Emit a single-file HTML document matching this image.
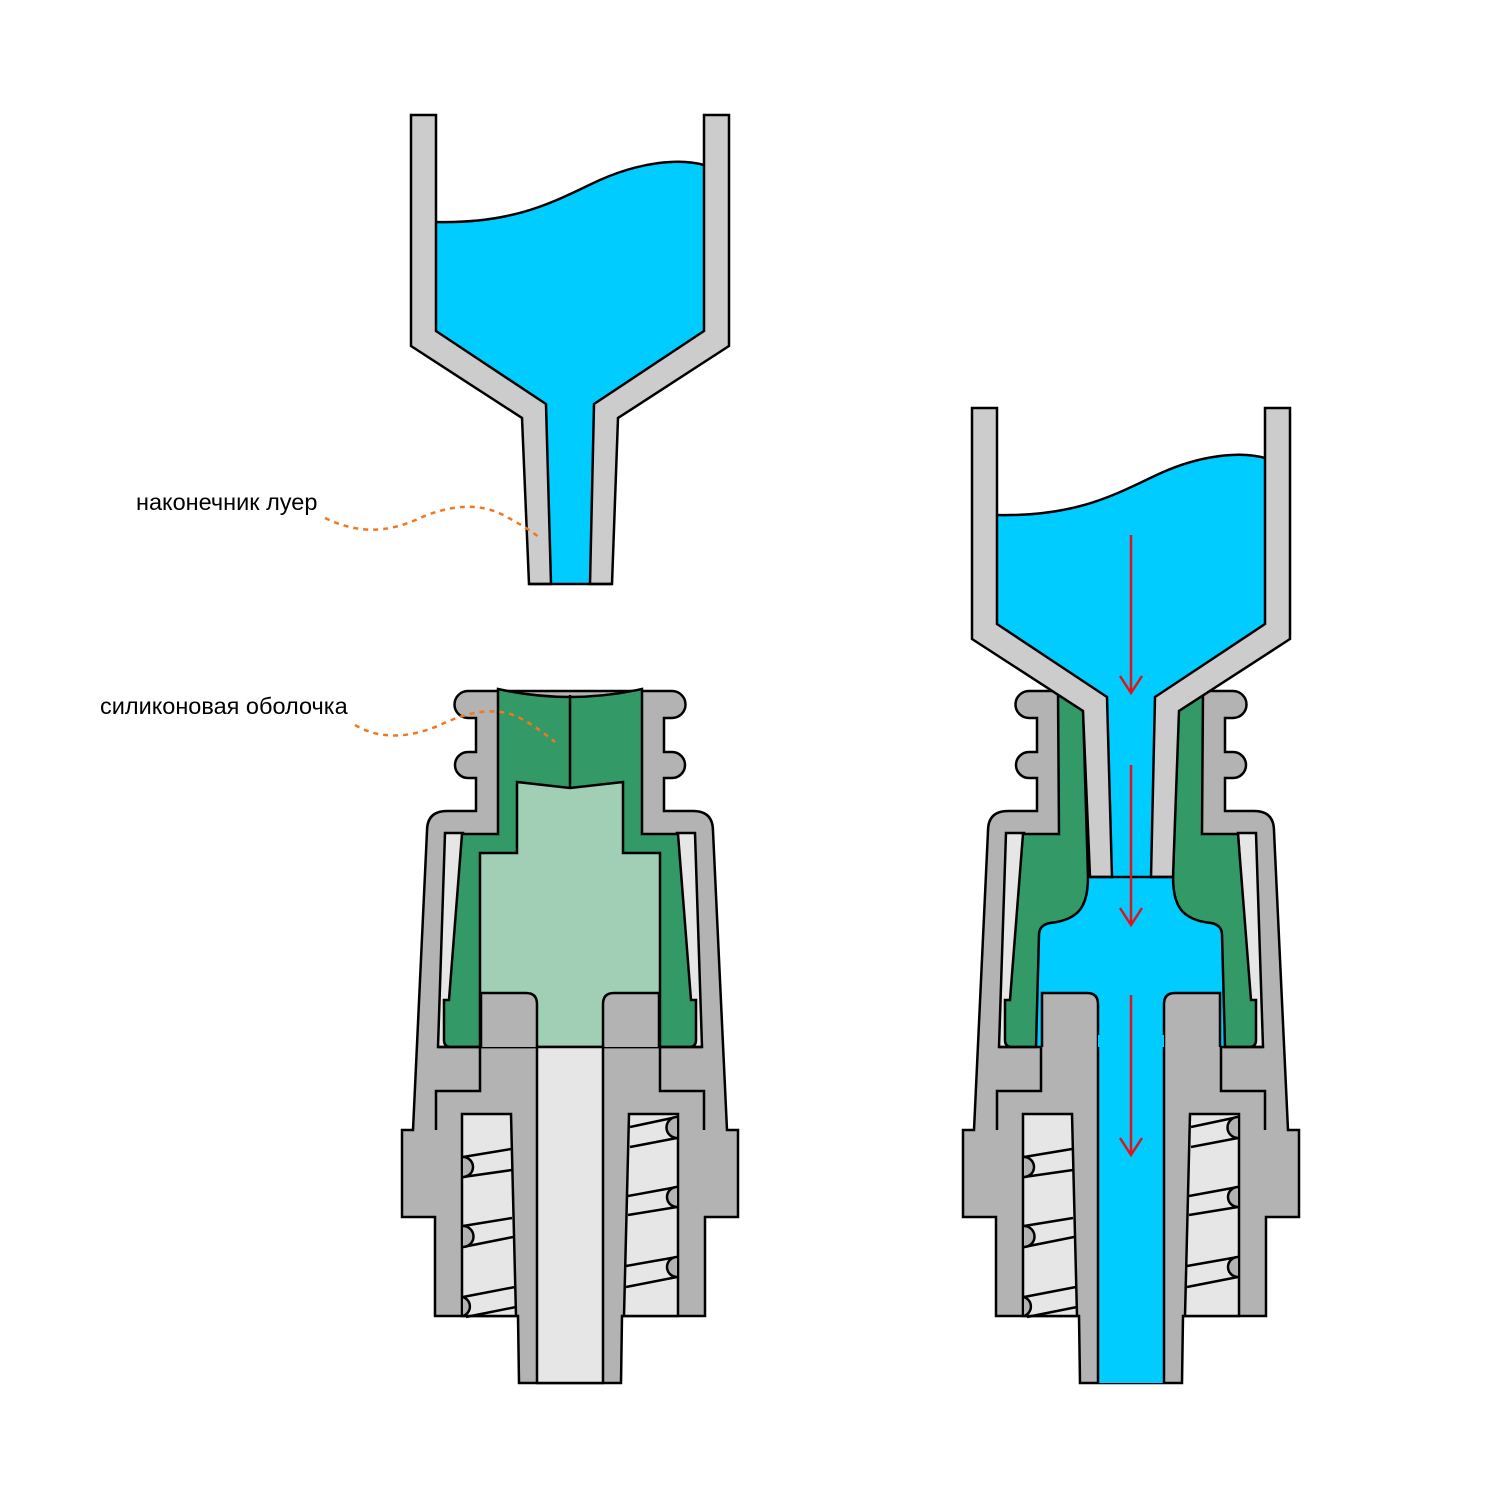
<!DOCTYPE html>
<html><head><meta charset="utf-8"><style>html,body{margin:0;padding:0;background:#fff}svg{display:block}</style></head>
<body>
<svg width="1500" height="1500" viewBox="0 0 1500 1500" xmlns="http://www.w3.org/2000/svg" stroke-linejoin="miter">
<defs>
<path id="housing" d="M498,691 L468,691 A13,13 0 0 0 468,718 L476,718 L476,752 L468,752 A13,13 0 0 0 468,778 L476,778 L476,811 L447,811 Q427,811 427,831 L413,1130 L402,1130 L402,1217 L435,1217 L435,1316 L518,1316 L519,1383 L621,1383 L622,1316 L705,1316 L705,1217 L738,1217 L738,1130 L727,1130 L713,831 Q713,811 693,811 L664,811 L664,778 L672,778 A13,13 0 0 0 672,752 L664,752 L664,718 L672,718 A13,13 0 0 0 672,691 L642,691 Z" fill="#b3b3b3" stroke="#000" stroke-width="2.5"/>
<g id="strips" fill="#e6e6e6" stroke="#000" stroke-width="2.5">
<polygon points="445,833 463,833 449,1047 438,1047"/>
<polygon points="695,833 677,833 691,1047 702,1047"/>
</g>
<g id="lowerlines" fill="none" stroke="#000" stroke-width="2.5">
<path d="M438,1047 L481,1047 M480,1047 L480,1091 L436,1091 L436,1130"/>
<path d="M702,1047 L659,1047 M660,1047 L660,1091 L704,1091 L704,1130"/>
</g>
<g id="tubes" fill="#b3b3b3" stroke="#000" stroke-width="2.5">
<path d="M481,1047 L481,993 L526,993 Q537,993 537,1004 L537,1047"/>
<path d="M659,1047 L659,993 L614,993 Q603,993 603,1004 L603,1047"/>
</g>
<g id="cavities" stroke="#000" stroke-width="2.5">
<polygon points="462,1114 511,1114 516,1316 462,1316" fill="#e6e6e6"/>
<polygon points="629,1114 678,1114 678,1316 624,1316" fill="#e6e6e6"/>
<g fill="none">
<path d="M463,1157 L511,1149 M463,1177 L512,1170"/>
<path d="M463,1226 L512,1218 M463,1247 L513,1237"/>
<path d="M463,1297 L515,1287 M466,1317 L516,1307"/>
<path d="M677,1117 L630,1127 M677,1138 L630,1147"/>
<path d="M677,1187 L628,1196 M677,1207 L628,1215"/>
<path d="M677,1257 L626,1266 M677,1277 L626,1287"/>
</g>
<g fill="#b3b3b3">
<path d="M463,1157 A10,10 0 0 1 463,1177"/>
<path d="M463,1226 A10.5,10.5 0 0 1 463,1247"/>
<path d="M463,1297 A10,10 0 0 1 463,1316"/>
<path d="M677,1117 A10.5,10.5 0 0 0 677,1138"/>
<path d="M677,1187 A10,10 0 0 0 677,1207"/>
<path d="M677,1257 A10,10 0 0 0 677,1277"/>
</g>
</g>
<g id="luer">
<path d="M436,222 C520,224 560,198 600,180 C640,162 680,158 704,165 L704,331 L594,404 L590,584 L551,584 L546,404 L436,331 Z" fill="#00ccff"/>
<path d="M436,222 C520,224 560,198 600,180 C640,162 680,158 704,165" fill="none" stroke="#000" stroke-width="2.5"/>
<polygon points="411,115 436,115 436,331 546,404 551,584 529,584 522,418 411,346" fill="#cccccc" stroke="#000" stroke-width="2.5"/>
<polygon points="729,115 704,115 704,331 594,404 590,584 612,584 618,418 729,346" fill="#cccccc" stroke="#000" stroke-width="2.5"/>
<line x1="529" y1="584" x2="612" y2="584" stroke="#000" stroke-width="2.5"/>
</g>
</defs>

<use href="#luer"/>

<use href="#housing"/>
<use href="#strips"/>
<path d="M498,689 Q570,705 642,689 L642,834 L678,834 L691,1000 L696,1000 L696,1040 Q696,1047 689,1047 L451,1047 Q444,1047 444,1040 L444,1000 L449,1000 L462,834 L498,834 Z" fill="#339966" stroke="#000" stroke-width="2.5"/>
<path d="M517,782 L570,788 L623,782 L623,853 L660,853 L660,1047 L480,1047 L480,853 L517,853 Z" fill="#a0cfb6" stroke="#000" stroke-width="2.5"/>
<line x1="570" y1="695" x2="570" y2="788" stroke="#000" stroke-width="2.5"/>
<use href="#lowerlines"/>
<use href="#tubes"/>
<rect x="537" y="1047" width="66" height="336" fill="#e6e6e6" stroke="#000" stroke-width="2.5"/>
<use href="#cavities"/>

<g transform="translate(561,0)">
<use href="#housing"/>
<use href="#strips"/>
</g>
<rect x="1036" y="860" width="189" height="187" fill="#00ccff"/>
<g fill="#339966" stroke="#000" stroke-width="2.5">
<path d="M1058,691 L1083,708 L1088,877 C1088,905 1080,920 1050,923 Q1039,925 1039,935 L1036,1047 L1012,1047 Q1005,1047 1005,1040 L1005,1000 L1010,1000 L1023,834 L1059,834 Z"/>
<path d="M1203,691 L1178,708 L1173,877 C1173,905 1181,920 1211,923 Q1222,925 1222,935 L1225,1047 L1249,1047 Q1256,1047 1256,1040 L1256,1000 L1251,1000 L1238,834 L1202,834 Z"/>
</g>
<g transform="translate(561,0)">
<use href="#lowerlines"/>
<use href="#tubes"/>
</g>
<rect x="1098" y="1035" width="66" height="348" fill="#00ccff"/>
<path d="M1098,1047 L1098,1383 M1164,1047 L1164,1383" stroke="#000" stroke-width="2.5"/>
<g transform="translate(561,0)"><use href="#cavities"/></g>
<g transform="translate(561,293)"><use href="#luer"/></g>

<g stroke="#e0141e" stroke-width="2.5" fill="none">
<path d="M1131,535 L1131,693 M1120,676 L1131,693 L1142,676"/>
<path d="M1131,765 L1131,925 M1120,908 L1131,925 L1142,908"/>
<path d="M1131,995 L1131,1155 M1120,1138 L1131,1155 L1142,1138"/>
</g>

<text x="136" y="510" font-family="Liberation Sans, sans-serif" font-size="23.5" fill="#000">наконечник луер</text>
<text x="100" y="714" font-family="Liberation Sans, sans-serif" font-size="23.5" fill="#000">силиконовая оболочка</text>
<g stroke="#f07820" stroke-width="2.5" stroke-dasharray="5,5" fill="none">
<path d="M325,518 C360,535 390,532 420,518 C450,505 480,502 505,516 C520,524 530,530 540,538"/>
<path d="M355,725 C380,740 410,738 440,725 C465,713 495,705 520,718 C535,726 545,734 555,742"/>
</g>
</svg>
</body></html>
